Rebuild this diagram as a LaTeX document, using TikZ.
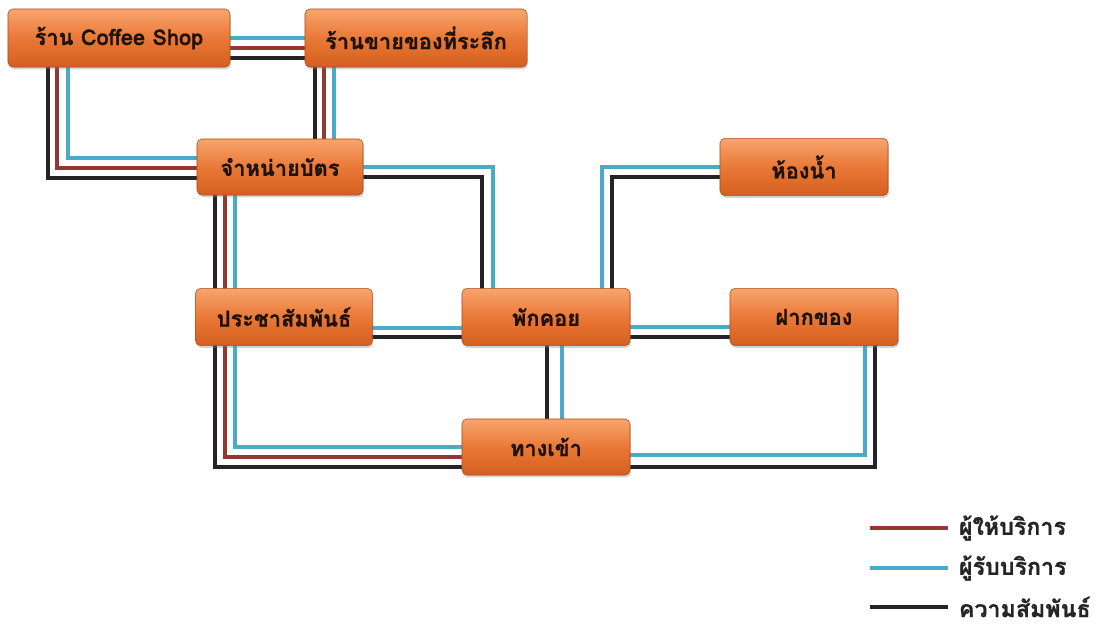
\documentclass[tikz,border=0pt]{standalone}
\usepackage{fontspec}
\newfontfamily\thaifont[Script=Thai,BoldFeatures={FakeBold=0.8}]{Loma}
\usepackage{xcolor}
\usepackage{tikz}
\usetikzlibrary{calc,shadows,backgrounds}
\definecolor{boxtop}{RGB}{247,165,110}
\definecolor{boxmid}{RGB}{234,120,55}
\definecolor{boxbot}{RGB}{212,95,30}
\definecolor{boxedge}{RGB}{175,75,30}
\definecolor{provred}{RGB}{150,54,50}
\definecolor{clientblue}{RGB}{75,170,200}
\definecolor{relblack}{RGB}{35,35,40}
\tikzset{
  zone/.style={rounded corners=3.5pt,draw=boxedge,thin,top color=boxtop,bottom color=boxbot,middle color=boxmid,
    minimum width=4.2cm,minimum height=1.43cm,text=black!85!brown,
    font=\thaifont\bfseries\fontsize{15.5}{18}\selectfont,
    drop shadow={opacity=0.35,shadow xshift=0.6pt,shadow yshift=-1.6pt}},
  provider/.style={draw=provred,line width=2.8pt},
  client/.style={draw=clientblue,line width=2.8pt},
  relation/.style={draw=relblack,line width=2.8pt},
  legend/.style={anchor=west,text=relblack,font=\thaifont\bfseries\fontsize{16.5}{19}\selectfont}
}
\begin{document}
\begin{tikzpicture}[x=0.025cm,y=-0.025cm]
\useasboundingbox (0,0) rectangle (1106,628);
% zones
\node[zone,minimum width=5.55cm,minimum height=1.45cm] (cafe) at (119,38) {ร้าน Coffee Shop};
\node[zone,minimum width=5.55cm,minimum height=1.45cm] (souvenir) at (416,38) {ร้านขายของที่ระลึก};
\node[zone,minimum width=4.15cm,minimum height=1.4cm] (ticket) at (280,167) {จำหน่ายบัตร};
\node[zone] (toilet) at (804,167) {ห้องน้ำ};
\node[zone,minimum width=4.42cm] (info) at (284,317) {ประชาสัมพันธ์};
\node[zone] (lounge) at (546,317) {พักคอย};
\node[zone] (locker) at (814,317) {ฝากของ};
\node[zone,minimum height=1.4cm] (entrance) at (546,447) {ทางเข้า};
% links
\begin{scope}[on background layer]
\draw[client] (cafe.center) -- (souvenir.center);
\draw[provider] ($(cafe.center)+(0,10)$) -- ($(souvenir.center)+(0,10)$);
\draw[relation] ($(cafe.center)+(0,20)$) -- ($(souvenir.center)+(0,20)$);
\draw[relation] ($(cafe.center)+(-71,0)$) |- ($(ticket.center)+(0,11)$);
\draw[provider] ($(cafe.center)+(-62,0)$) |- ($(ticket.center)+(0,1)$);
\draw[client] ($(cafe.center)+(-51,0)$) |- ($(ticket.center)+(0,-9)$);
\draw[relation] ($(ticket.center)+(35,0)$) |- (souvenir.center);
\draw[provider] ($(ticket.center)+(44,0)$) |- (souvenir.center);
\draw[client] ($(ticket.center)+(54,0)$) |- (souvenir.center);
\draw[client] (ticket.center) -| ($(lounge.center)+(-53,0)$);
\draw[relation] ($(ticket.center)+(0,10)$) -| ($(lounge.center)+(-64,0)$);
\draw[client] ($(lounge.center)+(56,0)$) |- (toilet.center);
\draw[relation] ($(lounge.center)+(66,0)$) |- ($(toilet.center)+(0,10)$);
\draw[relation] ($(ticket.center)+(-65,0)$) |- (info.center);
\draw[provider] ($(ticket.center)+(-55,0)$) |- (info.center);
\draw[client] ($(ticket.center)+(-45,0)$) |- (info.center);
\draw[client] ($(info.center)+(0,11)$) -- ($(lounge.center)+(0,11)$);
\draw[relation] ($(info.center)+(0,20)$) -- ($(lounge.center)+(0,20)$);
\draw[relation] ($(info.center)+(-69,0)$) |- ($(entrance.center)+(0,20)$);
\draw[provider] ($(info.center)+(-59,0)$) |- ($(entrance.center)+(0,10)$);
\draw[client] ($(info.center)+(-49,0)$) |- (entrance.center);
\draw[relation] ($(lounge.center)+(1,0)$) -- ($(entrance.center)+(1,0)$);
\draw[client] ($(lounge.center)+(16,0)$) -- ($(entrance.center)+(16,0)$);
\draw[client] ($(lounge.center)+(0,10)$) -- ($(locker.center)+(0,10)$);
\draw[relation] ($(lounge.center)+(0,20)$) -- ($(locker.center)+(0,20)$);
\draw[client] ($(locker.center)+(51,0)$) |- ($(entrance.center)+(0,8)$);
\draw[relation] ($(locker.center)+(61,0)$) |- ($(entrance.center)+(0,20)$);
\end{scope}
% legend
\node[legend] (lprov) at (954,528) {ผู้ให้บริการ};
\node[legend] (lclient) at (954,568) {ผู้รับบริการ};
\node[legend] (lrel) at (954,607) {ความสัมพันธ์};
\draw[provider,line width=3.4pt] ($(lprov.west)+(-84,0)$) -- ($(lprov.west)+(-6,0)$);
\draw[client,line width=3.4pt] ($(lclient.west)+(-84,0)$) -- ($(lclient.west)+(-6,0)$);
\draw[relation,line width=3.4pt] ($(lrel.west)+(-84,0)$) -- ($(lrel.west)+(-6,0)$);
\end{tikzpicture}
\end{document}
